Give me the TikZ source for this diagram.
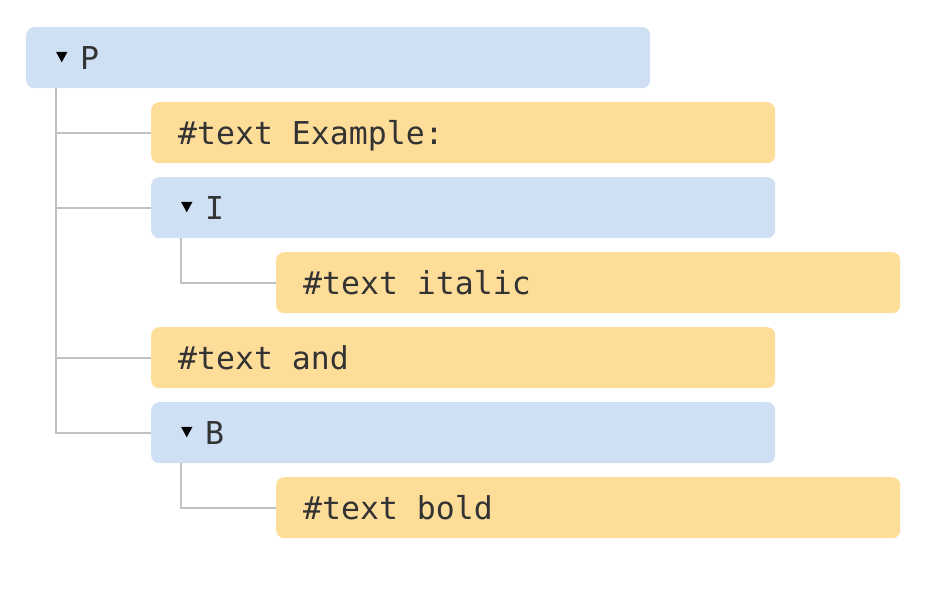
\documentclass[tikz,border=0pt]{standalone}
\usepackage{fontspec}
\setmonofont{DejaVu Sans Mono}
\definecolor{blueb}{HTML}{CFE0F4}
\definecolor{orangeb}{HTML}{FEDD99}
\definecolor{linec}{HTML}{BFC2C5}
\definecolor{txt}{HTML}{333333}
\newcommand{\msp}{\hphantom{x}}
\begin{document}
\begin{tikzpicture}[x=1pt,y=-1pt,
  box/.style={anchor=north west, rounded corners=8pt, minimum width=624pt, minimum height=61pt,
    inner ysep=0pt, text height=42pt, text depth=19pt, align=left,
    font=\ttfamily\fontsize{31.5}{36}\selectfont, text=txt},
  elem/.style={box, fill=blueb, inner xsep=54pt, text width=516pt},
  txtnode/.style={box, fill=orangeb, inner xsep=27pt, text width=570pt},
  tree/.style={draw=linec, line width=2.2pt},
  tri/.style={fill=black}]
\useasboundingbox (0,0) rectangle (950,597);
\node[elem] (p) at (26,27) {P};
\node[txtnode] (t1) at (151,102) {\#text\msp Example:};
\node[elem] (i) at (151,177) {I};
\node[txtnode] (t2) at (276,252) {\#text\msp italic};
\node[txtnode] (t3) at (151,327) {\#text\msp and};
\node[elem] (b) at (151,402) {B};
\node[txtnode] (t4) at (276,477) {\#text\msp bold};
% triangles
\foreach \n in {p,i,b}{
  \fill[tri] ([xshift=30pt,yshift=-24.8pt]\n.north west) -- ++(11.5,0) -- ++(-5.75,10.5) -- cycle;
}
% tree lines
\coordinate (pv) at ([xshift=30pt]p.south west);
\draw[tree] (pv) |- (b.west);
\draw[tree] (pv |- t1.west) -- (t1.west);
\draw[tree] (pv |- i.west) -- (i.west);
\draw[tree] (pv |- t3.west) -- (t3.west);
\coordinate (iv) at ([xshift=30pt]i.south west);
\draw[tree] (iv) |- (t2.west);
\coordinate (bv) at ([xshift=30pt]b.south west);
\draw[tree] (bv) |- (t4.west);
\end{tikzpicture}
\end{document}
